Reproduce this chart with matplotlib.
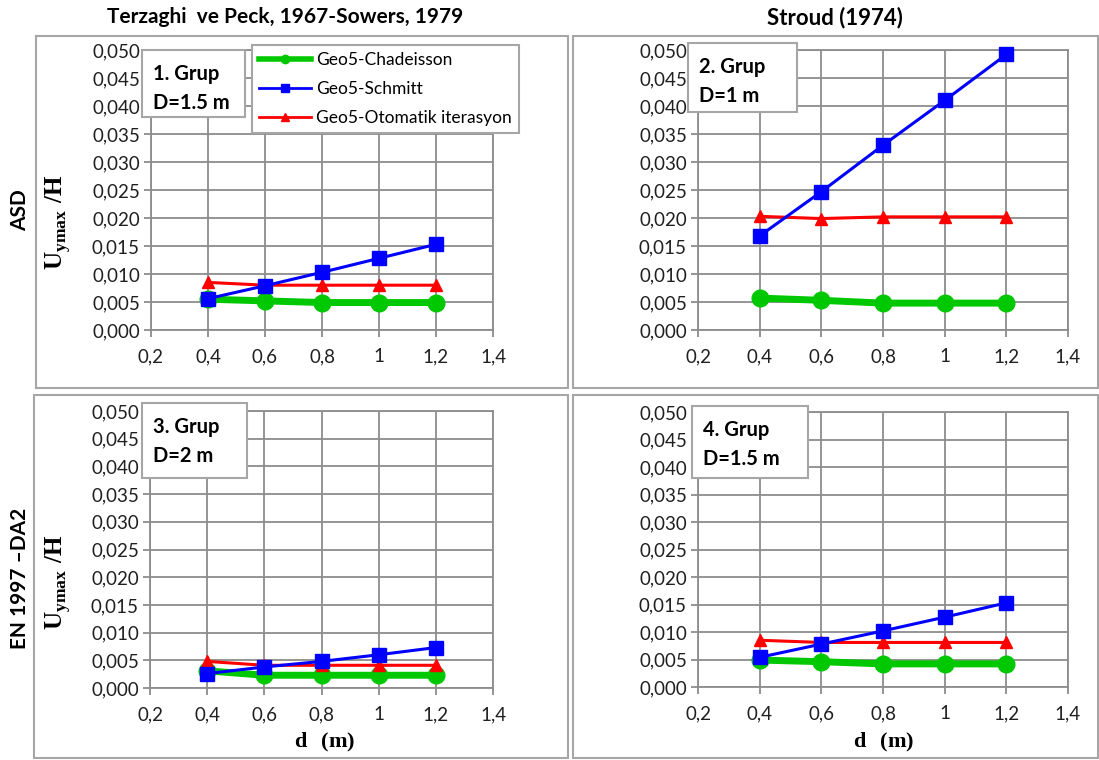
import matplotlib
matplotlib.use("Agg")
import matplotlib.pyplot as plt
from matplotlib.patches import Rectangle
from matplotlib.lines import Line2D

plt.rcParams['font.family'] = ['Lato', 'DejaVu Sans']
plt.rcParams['mathtext.fontset'] = 'custom'
plt.rcParams['mathtext.rm'] = 'Liberation Serif'
plt.rcParams['mathtext.bf'] = 'Liberation Serif:bold'

W, H = 1099, 760

# pile spacing d (m)
d_vals = [0.4, 0.6, 0.8, 1.0, 1.2]

# Uymax/H for each group, three Geo5 methods
chadeisson_1 = [0.0055, 0.0052, 0.0049, 0.0049, 0.0049]
schmitt_1 = [0.0056, 0.0079, 0.0103, 0.0128, 0.0153]
otomatik_1 = [0.0085, 0.0080, 0.0080, 0.0080, 0.0080]

chadeisson_2 = [0.0057, 0.0053, 0.0048, 0.0048, 0.0048]
schmitt_2 = [0.0168, 0.0247, 0.0330, 0.0410, 0.0492]
otomatik_2 = [0.0203, 0.0199, 0.0202, 0.0202, 0.0202]

chadeisson_3 = [0.0031, 0.0023, 0.0023, 0.0023, 0.0023]
schmitt_3 = [0.0026, 0.0038, 0.0048, 0.0060, 0.0073]
otomatik_3 = [0.0048, 0.0041, 0.0041, 0.0041, 0.0041]

chadeisson_4 = [0.0049, 0.0046, 0.0042, 0.0042, 0.0042]
schmitt_4 = [0.0054, 0.0078, 0.0102, 0.0127, 0.0153]
otomatik_4 = [0.0085, 0.0081, 0.0081, 0.0081, 0.0081]

group_names = ["1. Grup", "2. Grup", "3. Grup", "4. Grup"]
depths = ["D=1.5 m", "D=1 m", "D=2 m", "D=1.5 m"]
series_names = ["Geo5-Chadeisson", "Geo5-Schmitt", "Geo5-Otomatik iterasyon"]
col_titles = ["Terzaghi  ve Peck, 1967-Sowers, 1979", "Stroud (1974)"]
row_titles = ["ASD", "EN 1997 \u2013DA2"]

x_ticks = [0.2, 0.4, 0.6, 0.8, 1.0, 1.2, 1.4]
x_labels = ["0,2", "0,4", "0,6", "0,8", "1", "1,2", "1,4"]
y_ticks = [i * 0.005 for i in range(11)]
y_labels = ["0,%03d" % (i * 5) for i in range(11)]

GRID = "#8c8c8c"
BOX = "#a6a6a6"


def fx(x):
    return x / W


def fy(y):
    return 1 - y / H


fig = plt.figure(figsize=(W / 100, H / 100), dpi=100)

# outer frames around each chart
frames = [(36, 36, 568, 388), (573, 36, 1098, 388), (34, 395, 568, 758), (573, 395, 1098, 758)]
for x0, y0, x1, y1 in frames:
    fig.patches.append(Rectangle((fx(x0), fy(y1)), fx(x1 - x0), (y1 - y0) / H,
                                 transform=fig.transFigure, fill=False,
                                 edgecolor=BOX, linewidth=1.5))

# plot areas in pixels: left, top, right, bottom
areas = [(151, 50, 493, 330), (698, 50, 1068, 330), (150, 411, 493, 688), (698, 412, 1068, 687)]
data = [
    (chadeisson_1, schmitt_1, otomatik_1),
    (chadeisson_2, schmitt_2, otomatik_2),
    (chadeisson_3, schmitt_3, otomatik_3),
    (chadeisson_4, schmitt_4, otomatik_4),
]
# text box positions: left, top, right, bottom
boxes = [(142, 50, 245, 117), (688, 43, 797, 112), (142, 403, 247, 478), (692, 406, 808, 478)]

axes = []
for i, (l, t, r, b) in enumerate(areas):
    ax = fig.add_axes([fx(l), fy(b), fx(r - l), (b - t) / H])
    green, blue, red = data[i]
    ax.plot(d_vals, green, color="#00c800", lw=5, marker="o", ms=12, clip_on=False, zorder=3)
    ax.plot(d_vals, blue, color="#0000ff", lw=2.2, marker="s", ms=10, clip_on=False, zorder=5)
    ax.plot(d_vals, red, color="#ff0000", lw=2.2, marker="^", ms=9, clip_on=False, zorder=4)
    ax.set_xlim(0.2, 1.4)
    ax.set_ylim(0, 0.05)
    ax.set_xticks(x_ticks)
    ax.set_xticklabels(x_labels)
    ax.set_yticks(y_ticks)
    ax.set_yticklabels(y_labels)
    ax.grid(True, color=GRID, lw=1.3)
    ax.set_axisbelow(True)
    for s in ax.spines.values():
        s.set_color(GRID)
        s.set_linewidth(1.3)
    ax.tick_params(direction="out", length=5, color=GRID, width=1.3,
                   labelsize=13.5, pad=3, colors="#202020")
    ax.tick_params(axis="x", pad=8)
    axes.append(ax)

    bl, bt, br, bb = boxes[i]
    fig.patches.append(Rectangle((fx(bl), fy(bb)), fx(br - bl), (bb - bt) / H,
                                 transform=fig.transFigure, facecolor="white",
                                 edgecolor=BOX, linewidth=1.5, zorder=10))
    fig.text(fx(bl + 11), fy(bt + 24), group_names[i], fontsize=14.5, fontweight="bold",
             va="center", ha="left", zorder=11)
    fig.text(fx(bl + 11), fy(bt + 53), depths[i], fontsize=14.5, fontweight="bold",
             va="center", ha="left", zorder=11)

# legend in the first chart
handles = [
    Line2D([], [], color="#00c800", lw=4, marker="o", ms=6),
    Line2D([], [], color="#0000ff", lw=2, marker="s", ms=6),
    Line2D([], [], color="#ff0000", lw=2, marker="^", ms=6),
]
leg = axes[0].legend(handles, series_names, loc="upper left",
                     bbox_to_anchor=(fx(252), fy(45)), bbox_transform=fig.transFigure,
                     fancybox=False, edgecolor=BOX, framealpha=1, fontsize=12.5,
                     borderaxespad=0, handlelength=3.0, handletextpad=0.3,
                     labelspacing=0.75, borderpad=0.4)
leg.get_frame().set_linewidth(1.5)
leg.set_zorder(12)

# column titles and row titles
fig.text(fx(285), fy(17), col_titles[0], fontsize=15, fontweight="bold", ha="center", va="center")
fig.text(fx(835), fy(18), col_titles[1], fontsize=16, fontweight="bold", ha="center", va="center")
fig.text(fx(20), fy(210), row_titles[0], fontsize=15, fontweight="bold", rotation=90,
         ha="center", va="center")
fig.text(fx(20), fy(578), row_titles[1], fontsize=15, fontweight="bold", rotation=90,
         ha="center", va="center")

ylab = r"$\mathbf{U}_{\mathbf{ymax}}\ \mathbf{/H}$"
fig.text(fx(58), fy(222), ylab, fontsize=18, rotation=90, ha="center", va="center")
fig.text(fx(58), fy(582), ylab, fontsize=18, rotation=90, ha="center", va="center")

xlab = r"$\mathbf{d\ \ (m)}$"
fig.text(fx(325), fy(742), xlab, fontsize=16, ha="center", va="center")
fig.text(fx(884), fy(742), xlab, fontsize=16, ha="center", va="center")

fig.savefig("out.png", dpi=100, facecolor="white")
